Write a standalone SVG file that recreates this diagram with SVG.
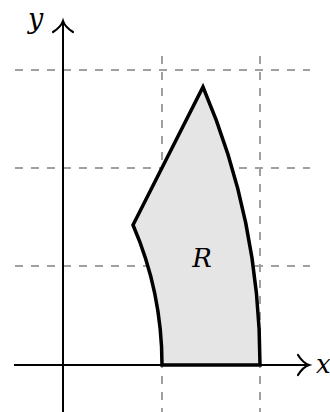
<svg xmlns="http://www.w3.org/2000/svg" width="330" height="412" viewBox="0 0 330 412">
<style>
.grid{stroke:#a0a0a0;stroke-width:2;stroke-dasharray:8 8;fill:none}
.axis{stroke:#000;stroke-width:2;fill:none}
.tip{stroke:#000;stroke-width:2.2;fill:none;stroke-linecap:round}
.lbl{font-family:"DejaVu Serif",serif;font-style:italic;fill:#000}
</style>
<g id="grid">
<line class="grid" x1="15" y1="70" x2="310" y2="70"/>
<line class="grid" x1="15" y1="168" x2="310" y2="168"/>
<line class="grid" x1="15" y1="266" x2="310" y2="266"/>
<line class="grid" x1="162" y1="56" x2="162" y2="412"/>
<line class="grid" x1="260" y1="56" x2="260" y2="412"/>
</g>
<g id="region">
<path d="M162,365 L260,365 A706 706 0 0 0 203,87 L133,225 A352 352 0 0 1 162,365 Z" fill="#e5e5e5" stroke="#000" stroke-width="3.5" stroke-linejoin="miter"/>
<text class="lbl" x="202" y="267" font-size="26" text-anchor="middle">R</text>
</g>
<g id="axes">
<line class="axis" x1="14" y1="365" x2="307" y2="365"/>
<path class="tip" d="M298,355 Q303,363 309,365 Q303,367 298,375"/>
<line class="axis" x1="63" y1="412" x2="63" y2="23"/>
<path class="tip" d="M53,32 Q61,27 63,21 Q65,27 73,32"/>
<text class="lbl" x="28" y="28" font-size="27">y</text>
<text class="lbl" x="316" y="373" font-size="26">x</text>
</g>
</svg>
